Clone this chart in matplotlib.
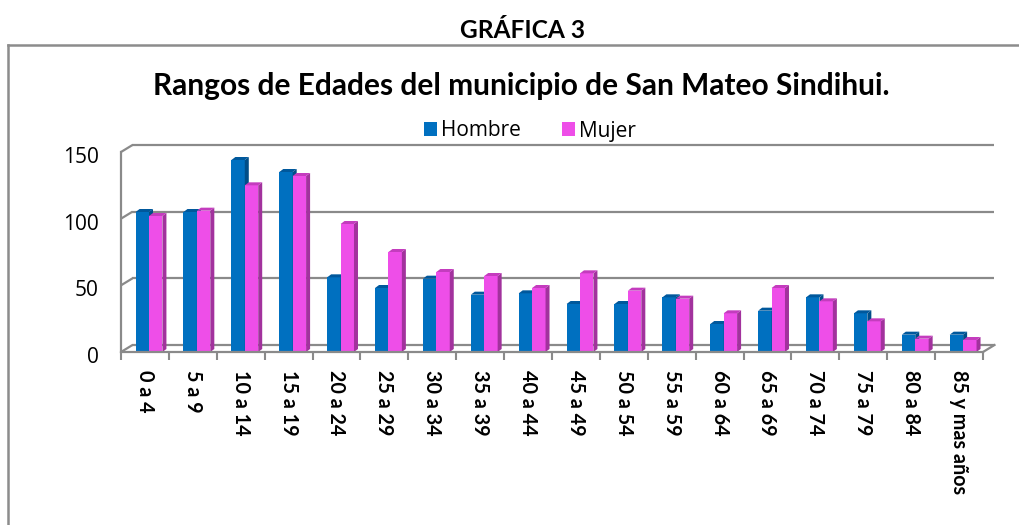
import numpy as np
import matplotlib
matplotlib.use("Agg")
import matplotlib.pyplot as plt
from matplotlib import font_manager as fm
from matplotlib.patches import Polygon
from matplotlib.transforms import ScaledTranslation
from matplotlib.lines import Line2D

# ---------------- data ----------------
categories = ["0 a 4", "5 a 9", "10 a 14", "15 a 19", "20 a 24", "25 a 29",
              "30 a 34", "35 a 39", "40 a 44", "45 a 49", "50 a 54", "55 a 59",
              "60 a 64", "65 a 69", "70 a 74", "75 a 79", "80 a 84", "85 y mas años"]
hombre = [105, 105, 144, 135, 56, 48, 55, 43, 44, 36, 36, 41, 21, 31, 41, 29, 13, 13]
mujer = [102, 106, 125, 132, 96, 75, 60, 57, 48, 59, 46, 40, 29, 48, 38, 23, 10, 9]
series_names = ["Hombre", "Mujer"]
y_ticks = [0, 50, 100, 150]
suptitle = "GRÁFICA 3"
title = "Rangos de Edades del municipio de San Mateo Sindihui."

# ---------------- style ----------------
avail = {f.name for f in fm.fontManager.ttflist}
def pick(*names):
    for n in names:
        if n in avail:
            return n
    return "DejaVu Sans"

F_TITLE = pick("Liberation Sans Narrow", "Lato", "Open Sans")
F_TXT = pick("Open Sans", "Lato", "DejaVu Sans")
F_CAT = pick("Lato", "Open Sans", "DejaVu Sans")

front_c = ["#0070C0", "#EE4EE8"]
top_c = ["#00589C", "#C43CBE"]
side_c = ["#004E88", "#A2329D"]
grid_c = "#8a8a8a"

W, H = 1020, 525
fig = plt.figure(figsize=(W / 100, H / 100), dpi=100)
fig.patch.set_facecolor("white")

# plot area (front plane) in pixels
x0, x1 = 121, 983
y0, y1 = 352, 152
ax = fig.add_axes([x0 / W, 1 - y0 / H, (x1 - x0) / W, (y0 - y1) / H])
n = len(categories)
ax.set_xlim(0, n)
ax.set_ylim(0, 150)
ax.set_facecolor("none")

pxx = (x1 - x0) / n          # pixels per category
pxy = (y0 - y1) / 150.0      # pixels per unit
wdx, wdy = 11.5 / pxx, 7.0 / pxy   # wall depth offset
bdx, bdy = 4.0 / pxx, 3.0 / pxy    # bar depth offset

# back wall gridlines and slants
for t in y_ticks:
    ax.plot([0, wdx], [t, t + wdy], color=grid_c, lw=1.6, clip_on=False, zorder=1,
            solid_capstyle="butt")
    ax.plot([wdx, n + wdx], [t + wdy, t + wdy], color=grid_c, lw=1.6, clip_on=False,
            zorder=1, solid_capstyle="butt")
ax.plot([n, n + wdx], [0, wdy], color=grid_c, lw=1.6, clip_on=False, zorder=1)

# bars
idx = np.arange(n)
bw = 0.28
offs = [0.305, 0.305 + bw]
containers = []
for s, vals in enumerate([hombre, mujer]):
    xs = idx + offs[s]
    bc = ax.bar(xs, vals, width=bw, align="edge", color=front_c[s], zorder=3 + s * 2,
                linewidth=0)
    containers.append(bc)
    for x, h in zip(xs, vals):
        side = Polygon([[x + bw, 0], [x + bw + bdx, bdy], [x + bw + bdx, h + bdy], [x + bw, h]],
                       closed=True, facecolor=side_c[s], edgecolor="none", zorder=3 + s * 2)
        top = Polygon([[x, h], [x + bdx, h + bdy], [x + bw + bdx, h + bdy], [x + bw, h]],
                      closed=True, facecolor=top_c[s], edgecolor="none", zorder=3 + s * 2)
        ax.add_patch(side)
        ax.add_patch(top)

# spines / axes
for sp in ["top", "right"]:
    ax.spines[sp].set_visible(False)
for sp in ["left", "bottom"]:
    ax.spines[sp].set_color(grid_c)
    ax.spines[sp].set_linewidth(1.6)
    ax.spines[sp].set_zorder(8)

ax.set_yticks(y_ticks)
ax.set_yticklabels([str(v) for v in y_ticks], fontsize=15, family=F_TXT, color="black")
ax.tick_params(axis="y", length=0, pad=16)
for lbl in ax.get_yticklabels():
    lbl.set_transform(lbl.get_transform() + ScaledTranslation(0, -3 / 100, fig.dpi_scale_trans))

ax.set_xticks(idx + 0.5)
ax.set_xticklabels(categories, rotation=270, fontsize=13.5, family=F_CAT,
                   fontweight="bold", ha="center", va="top")
ax.tick_params(axis="x", length=0, pad=13)
ax.set_xticks(np.arange(n + 1), minor=True)
ax.tick_params(axis="x", which="minor", length=6, width=1.5, color=grid_c, direction="out")

renderer = fig.canvas.get_renderer()
# fit category label size so the longest label spans ~124 px like the reference
longest = ax.get_xticklabels()[-1]
hgt = longest.get_window_extent(renderer).height
cat_fs = 13.5 * 124 / hgt
for lbl in ax.get_xticklabels():
    lbl.set_fontsize(cat_fs)

# chart frame (cut off at right and bottom)
fig.add_artist(Line2D([8 / W, 8 / W], [1 - 45 / H, -0.01], color="#8c8c8c", lw=1.8))
fig.add_artist(Line2D([8 / W, 1.01], [1 - 45 / H, 1 - 45 / H], color="#8c8c8c", lw=1.8))

# titles, fitted to reference widths
def fitted_text(x, y, s, target_w, fs, family):
    t = fig.text(x / W, 1 - y / H, s, ha="center", va="center", fontsize=fs,
                 fontweight="bold", family=family, color="black")
    w = t.get_window_extent(renderer).width
    t.set_fontsize(fs * target_w / w)
    return t

fitted_text(523, 30, suptitle, 125, 16, F_TITLE)
fitted_text(521, 86, title, 738, 20, F_TITLE)

# legend
ax.legend(containers, series_names, loc="center", bbox_to_anchor=(530 / W, 1 - 131 / H),
          bbox_transform=fig.transFigure, ncol=2, frameon=False,
          prop={"family": F_TXT, "size": 15}, handlelength=0.6, handleheight=0.65,
          handletextpad=0.2, columnspacing=2.0, borderpad=0)

fig.savefig("out.png", dpi=100, facecolor="white")
